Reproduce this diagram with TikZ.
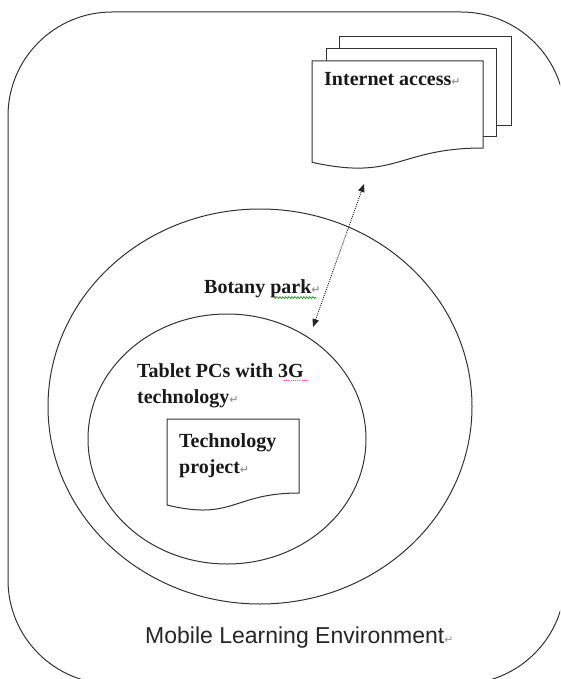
\documentclass[tikz,border=0pt]{standalone}
\usepackage{fontspec}
\setmainfont{Liberation Serif}
\newfontfamily\labelsans{Liberation Sans}
\newfontfamily\markfont{DejaVu Sans}
\usetikzlibrary{arrows.meta,decorations.pathmorphing,shapes.geometric}

% paragraph mark shown after a line of text
\newcommand{\parmark}{{\markfont\fontsize{11}{11}\selectfont\textcolor{black!40}{↵}}}

\begin{document}
\begin{tikzpicture}[x=1pt,y=-1pt,
  outline/.style={draw=black!80,line width=1pt,fill=white},
  ring/.style={outline,ellipse,inner sep=0pt},
  boldlabel/.style={font=\fontsize{20}{26}\selectfont\bfseries,anchor=base west,inner sep=0pt,text=black!90},
  envlabel/.style={font=\labelsans\fontsize{23}{28}\selectfont,anchor=base west,inner sep=0pt,text=black!85},
  linkarrow/.style={draw=black!85,line width=0.9pt,dash pattern=on 1pt off 1.1pt,
    arrows={Triangle[length=8pt,width=6.5pt]-Triangle[length=8pt,width=6.5pt]}},
  spellmark/.style={green!55!black,line width=0.6pt,decorate,
    decoration={snake,amplitude=0.9pt,segment length=3pt}},
  grammark/.style={magenta!70,line width=0.8pt,dash pattern=on 0.8pt off 1.4pt}
]
\useasboundingbox (0,0) rectangle (560,679);
\fill[white] (0,0) rectangle (560,679);

% environment frame (its right and bottom sides run off the page)
\begin{scope}
  \clip (0,0) rectangle (560,679);
  \draw[outline,rounded corners=104pt] (8,12) rectangle (565,684);
\end{scope}

% nested areas
\node[ring,minimum width=424pt,minimum height=395pt] (park) at (260,406.5) {};
\node[ring,minimum width=278pt,minimum height=250pt] (tablets) at (227,439) {};

% technology project document
\draw[outline] (167,419) -- (299,419) -- (299,493)
  .. controls (233,493) and (233,521.2) .. (167,505) -- cycle;

% internet access multi-document
\draw[outline] (339,37) rectangle (511,126);
\draw[outline] (326,49) rectangle (496,137);
\draw[outline] (312,61) -- (483,61) -- (483,148)
  .. controls (397.5,148) and (397.5,181.2) .. (312,162.3) -- cycle;

% labels
\node[boldlabel] (internet) at (324,86) {Internet access\parmark};
\node[boldlabel] (botany) at (204,293) {Botany park\parmark};
\node[boldlabel] (tabletA) at (137,377) {Tablet PCs with 3G};
\node[boldlabel] (tabletB) at (137,403) {technology\parmark};
\node[boldlabel] (projA) at (179,447) {Technology};
\node[boldlabel] (projB) at (179,473) {project\parmark};
\node[envlabel] (env) at (145,643) {Mobile Learning Environment\parmark};

% proofing underlines
\draw[spellmark] (273,297.5) -- (316,297.5);
\draw[grammark] (284,380) -- (307,380);

% link between internet access and the tablets
\coordinate (netEnd) at (364,184);
\coordinate (tabEnd) at (313,327);
\draw[linkarrow] (tabEnd) -- (netEnd);
\end{tikzpicture}
\end{document}
